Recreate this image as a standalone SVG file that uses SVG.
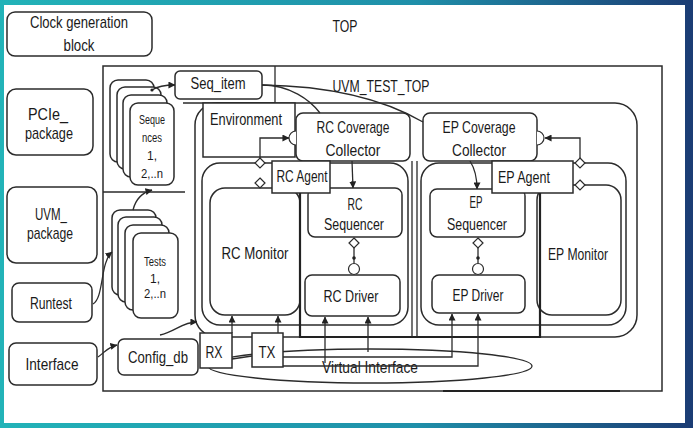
<svg xmlns="http://www.w3.org/2000/svg" width="693" height="428" viewBox="0 0 693 428">
<defs>
<linearGradient id="frameGrad" x1="0" y1="0" x2="1" y2="0">
<stop offset="0" stop-color="#22b3b8"/>
<stop offset="0.6" stop-color="#1f8fa9"/>
<stop offset="1" stop-color="#1b3c74"/>
</linearGradient>
<marker id="arr" viewBox="0 0 8 8" refX="7.5" refY="4" markerWidth="7" markerHeight="7" markerUnits="userSpaceOnUse" orient="auto">
<path d="M0,0 L8,4 L0,8 z" fill="#222"/>
</marker>
<style>
.box{fill:#fff;stroke:#2b2b2b;stroke-width:1.5}
.ln{fill:none;stroke:#2b2b2b;stroke-width:1.3}
.thick{fill:none;stroke:#222;stroke-width:2.2}
.t{font-family:"Liberation Sans",Arial,sans-serif;font-size:17px;fill:#1a1a1a;text-anchor:middle}
.s{font-family:"Liberation Sans",Arial,sans-serif;font-size:12px;fill:#1a1a1a;text-anchor:middle}
.dia{fill:#fff;stroke:#2b2b2b;stroke-width:1.2}
</style>
</defs>

<rect x="0" y="0" width="693" height="428" fill="url(#frameGrad)"/>
<rect x="4" y="5" width="681" height="418" fill="#fff"/>

<g id="top-label"><text class="t" x="345" y="32" font-size="19" textLength="25" lengthAdjust="spacingAndGlyphs">TOP</text></g>

<g id="clock"><rect class="box" x="7" y="12" width="145" height="44" rx="8"/>
<text class="t" x="79" y="28" textLength="98" lengthAdjust="spacingAndGlyphs">Clock generation</text>
<text class="t" x="79" y="51" textLength="31" lengthAdjust="spacingAndGlyphs">block</text></g>

<g id="pcie"><rect class="box" x="7" y="89" width="86" height="66" rx="9"/>
<text class="t" x="48" y="120" font-size="15" textLength="40" lengthAdjust="spacingAndGlyphs">PCIe_</text>
<text class="t" x="49" y="139" font-size="15" textLength="48" lengthAdjust="spacingAndGlyphs">package</text></g>

<g id="uvm"><rect class="box" x="7" y="187" width="90" height="76" rx="9"/>
<text class="t" x="51" y="220" font-size="15" textLength="32" lengthAdjust="spacingAndGlyphs">UVM_</text>
<text class="t" x="50" y="239" font-size="15" textLength="46" lengthAdjust="spacingAndGlyphs">package</text></g>

<g id="runtest"><rect class="box" x="12" y="283" width="80" height="39" rx="7"/>
<text class="t" x="51" y="309" textLength="42" lengthAdjust="spacingAndGlyphs">Runtest</text></g>

<g id="interface"><rect class="box" x="9" y="343" width="88" height="42" rx="7"/>
<text class="t" x="52" y="370" textLength="53" lengthAdjust="spacingAndGlyphs">Interface</text></g>

<g id="uvm_test_top"><rect class="box" x="103" y="66" width="559" height="325" fill="none"/>
<text class="t" x="381" y="92" font-size="19" textLength="97" lengthAdjust="spacingAndGlyphs">UVM_TEST_TOP</text>
<path class="ln" d="M275,66 V103 M183,103 H275 M103,192 H185"/>
<path class="thick" d="M443,391 H620" stroke-width="3"/></g>

<g id="environment-frame"><rect class="box" x="195" y="103" width="442" height="234" rx="22" fill="none"/></g>

<g id="sequences">
<rect class="box" x="110" y="80" width="44" height="82" rx="8"/>
<rect class="box" x="117" y="87" width="44" height="82" rx="8"/>
<rect class="box" x="123" y="95" width="44" height="82" rx="8"/>
<rect class="box" x="130" y="103" width="44" height="82" rx="8"/>
<text class="s" x="152" y="124" textLength="26" lengthAdjust="spacingAndGlyphs">Seque</text>
<text class="s" x="152" y="142" textLength="20" lengthAdjust="spacingAndGlyphs">nces</text>
<text class="s" x="152" y="160">1,</text>
<text class="s" x="152" y="178" textLength="22" lengthAdjust="spacingAndGlyphs">2,..n</text></g>

<g id="tests">
<rect class="box" x="112" y="210" width="44" height="85" rx="8"/>
<rect class="box" x="118" y="217" width="44" height="85" rx="8"/>
<rect class="box" x="125" y="225" width="44" height="85" rx="8"/>
<rect class="box" x="133" y="233" width="45" height="85" rx="8"/>
<text class="s" x="155" y="266" textLength="22" lengthAdjust="spacingAndGlyphs">Tests</text>
<text class="s" x="155" y="283">1,</text>
<text class="s" x="155" y="298" textLength="22" lengthAdjust="spacingAndGlyphs">2,..n</text></g>

<g id="seq_item"><rect class="box" x="175" y="71" width="87" height="28" rx="5"/>
<text class="t" x="218" y="89" textLength="55" lengthAdjust="spacingAndGlyphs">Seq_item</text></g>

<g id="env-label"><rect class="box" x="203" y="103" width="92" height="54"/>
<text class="t" x="246" y="125" font-size="18" textLength="72" lengthAdjust="spacingAndGlyphs">Environment</text></g>

<g id="rc-agent-frame"><rect class="box" x="202" y="163" width="206" height="162" rx="18" fill="none"/></g>
<g id="ep-agent-frame"><rect class="box" x="421" y="163" width="205" height="162" rx="18" fill="none"/></g>

<g id="rc-monitor"><rect class="box" x="210" y="188" width="90" height="127" rx="15"/>
<text class="t" x="255" y="259" font-size="18" textLength="67" lengthAdjust="spacingAndGlyphs">RC Monitor</text></g>

<g id="ep-monitor"><rect class="box" x="537" y="185" width="84" height="130" rx="15"/>
<text class="t" x="578" y="260" font-size="18" textLength="60" lengthAdjust="spacingAndGlyphs">EP Monitor</text></g>

<g id="rc-cc"><rect class="box" x="296" y="113" width="114" height="48" rx="7"/>
<text class="t" x="353" y="133" font-size="18" textLength="73" lengthAdjust="spacingAndGlyphs">RC Coverage</text>
<text class="t" x="353" y="156" font-size="18" textLength="55" lengthAdjust="spacingAndGlyphs">Collector</text>
<path class="dia" d="M296,131 A7,7 0 0 0 296,145"/></g>

<g id="ep-cc"><rect class="box" x="423" y="113" width="114" height="48" rx="7"/>
<text class="t" x="479" y="133" font-size="18" textLength="73" lengthAdjust="spacingAndGlyphs">EP Coverage</text>
<text class="t" x="479" y="156" font-size="18" textLength="54" lengthAdjust="spacingAndGlyphs">Collector</text>
<path class="dia" d="M537,131 A7,7 0 0 1 537,145"/></g>

<g id="rc-sequencer"><rect class="box" x="308" y="188" width="94" height="49" rx="7"/>
<text class="t" x="355" y="210" font-size="18" textLength="15" lengthAdjust="spacingAndGlyphs">RC</text>
<text class="t" x="354" y="230" font-size="18" textLength="60" lengthAdjust="spacingAndGlyphs">Sequencer</text></g>

<g id="ep-sequencer"><rect class="box" x="430" y="189" width="95" height="48" rx="7"/>
<text class="t" x="476" y="208" font-size="18" textLength="13" lengthAdjust="spacingAndGlyphs">EP</text>
<text class="t" x="477" y="230" font-size="18" textLength="60" lengthAdjust="spacingAndGlyphs">Sequencer</text></g>

<g id="rc-driver"><rect class="box" x="305" y="275" width="95" height="41" rx="7"/>
<text class="t" x="351" y="302" font-size="18" textLength="55" lengthAdjust="spacingAndGlyphs">RC Driver</text></g>

<g id="ep-driver"><rect class="box" x="432" y="275" width="93" height="38" rx="7"/>
<text class="t" x="478" y="301" font-size="18" textLength="51" lengthAdjust="spacingAndGlyphs">EP Driver</text></g>

<g id="rc-agent-label"><rect class="box" x="272" y="161" width="58" height="32" fill="none"/>
<text class="t" x="302" y="182" font-size="18" textLength="51" lengthAdjust="spacingAndGlyphs">RC Agent</text></g>

<g id="ep-agent-label"><rect class="box" x="492" y="161" width="81" height="32"/>
<text class="t" x="524" y="183" font-size="18" textLength="52" lengthAdjust="spacingAndGlyphs">EP Agent</text></g>

<g id="config_db"><rect class="box" x="118" y="339" width="80" height="36" rx="6"/>
<text class="t" x="158" y="363" font-size="18" textLength="60" lengthAdjust="spacingAndGlyphs">Config_db</text></g>

<g id="virtual-interface"><ellipse class="ln" cx="370" cy="366" rx="162" ry="17"/>
<text class="t" x="370" y="373" textLength="96" lengthAdjust="spacingAndGlyphs">Virtual Interface</text></g>

<g id="connectors">
<path class="ln" d="M152,90 C158,86 165,85 175,85" marker-end="url(#arr)"/>
<circle cx="152" cy="90" r="1.6" fill="#222"/>
<path class="ln" d="M133,210 C136,198 144,192 152,190" marker-end="url(#arr)"/>
<path class="ln" d="M93,304 C104,298 100,262 112,252" marker-end="url(#arr)"/>
<path class="ln" d="M98,357 C105,352 108,347 117,345" marker-end="url(#arr)"/>
<path class="ln" d="M160,335 C175,332 182,322 197,322" marker-end="url(#arr)"/>
<path class="ln" d="M262,85 C290,85 310,100 320,113"/>
<path class="ln" d="M262,85 C330,86 385,100 423,122"/>
<path class="ln" d="M352,161 L353,188" marker-end="url(#arr)"/>
<path class="ln" d="M470,161 Q477,172 477,189" marker-end="url(#arr)"/>
<path class="ln" d="M260,158 V138 H289" marker-end="url(#arr)"/>
<path class="ln" d="M580,158 V138 H545" marker-end="url(#arr)"/>
<polygon class="dia" points="260,158 265,163 260,168 255,163"/>
<polygon class="dia" points="260,178 265,183 260,188 255,183"/>
<polygon class="dia" points="580,158 585,163 580,168 575,163"/>
<polygon class="dia" points="580,180 585,185 580,190 575,185"/>
<path class="ln" d="M354,248 V263"/>
<polygon class="dia" points="354,238 359,243 354,248 349,243"/>
<circle cx="354" cy="258" r="1.8" fill="#222"/>
<circle class="dia" cx="354" cy="269" r="5.5"/>
<path class="ln" d="M478,248 V263"/>
<polygon class="dia" points="478,238 483,243 478,248 473,243"/>
<circle cx="478" cy="258" r="1.8" fill="#222"/>
<circle class="dia" cx="478" cy="269" r="5.5"/>
<path class="thick" d="M300,193 V337 H540 V193"/>
<path class="ln" d="M412,161 V337 M417,161 V337"/>
<path class="ln" d="M232,333 V316" marker-end="url(#arr)"/>
<path class="ln" d="M278,333 V316" marker-end="url(#arr)"/>
<path class="ln" d="M325,363 V317" marker-end="url(#arr)"/>
<path class="ln" d="M368,352 V317" marker-end="url(#arr)"/>
<path class="ln" d="M283,357 H452 V314" marker-end="url(#arr)"/>
<path class="ln" d="M283,366 H478 V314" marker-end="url(#arr)"/>
<path class="ln" d="M232,359 L252,356"/>
</g>

<g id="rx"><rect class="box" x="200" y="333" width="32" height="35"/>
<text class="t" x="214" y="358" font-size="22" textLength="17" lengthAdjust="spacingAndGlyphs">RX</text></g>
<g id="tx"><rect class="box" x="252" y="333" width="31" height="34"/>
<text class="t" x="267" y="358" font-size="22" textLength="17" lengthAdjust="spacingAndGlyphs">TX</text></g>
</svg>
